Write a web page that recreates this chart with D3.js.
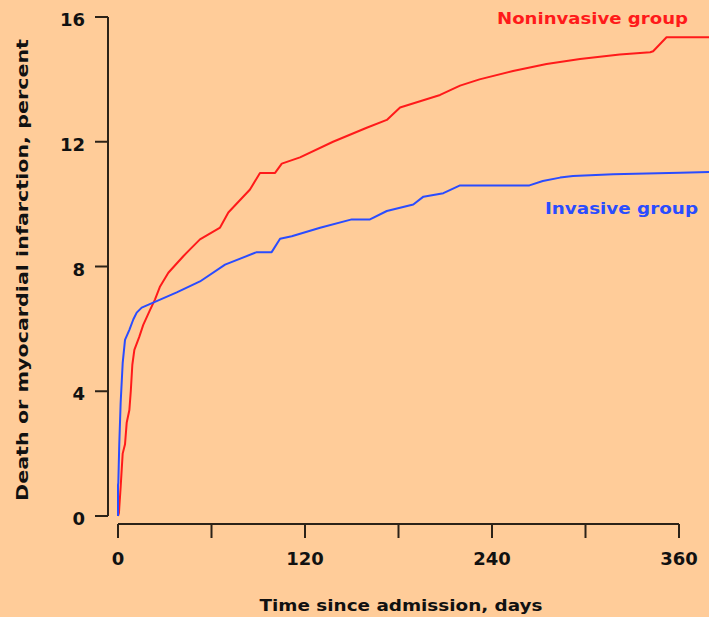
<!DOCTYPE html>
<html>
<head>
<meta charset="utf-8">
<script src="https://cdn.jsdelivr.net/npm/d3@7"></script>
<style>
  html, body { margin: 0; padding: 0; background: #ffcc99; }
  svg { display: block; }
  text { font-family: "DejaVu Sans", sans-serif; font-weight: bold; fill: #111; }
</style>
</head>
<body>
<svg id="chart" width="709" height="617"></svg>
<script>
// Cumulative rate of death or myocardial infarction (%) by day since admission
const noninvasiveDays = [0, 0.6, 1.7, 3, 4.5, 5.6, 7.3, 8.2, 9.2, 10.5, 13.7, 16.2, 20.5, 23.7, 27, 32.3, 41.9, 46.2,
  52.6, 65.5, 70.8, 84.7, 91.1, 100.8, 105.1, 116.8, 138, 159.6, 172.5, 181, 206.7, 219.5, 232, 253.5, 275, 296.5,
  322, 341.5, 343.4, 352, 380];
const noninvasiveRate = [0, 0.1, 0.93, 2.0, 2.3, 3.0, 3.4, 4.0, 4.85, 5.33, 5.75, 6.13, 6.6, 6.94, 7.36, 7.8, 8.33, 8.55,
  8.87, 9.25, 9.73, 10.47, 11.0, 11.0, 11.3, 11.5, 12.0, 12.45, 12.7, 13.1, 13.5, 13.8, 14.0, 14.27, 14.49, 14.65,
  14.8, 14.87, 14.9, 15.35, 15.35];

const invasiveDays = [0, 0, 0.2, 0.8, 1.7, 3.0, 4.5, 7.3, 9.8, 12, 15.2, 22.6, 37.7, 52.6, 68.7, 89, 98.6, 104, 111.5,
  129.7, 150, 161.7, 172.5, 189.5, 196, 208.8, 219.5, 245, 264, 272.6, 283.7, 292, 317.7, 360.7, 380];
const invasiveRate = [0, 1.0, 1.06, 2.28, 3.63, 4.9, 5.65, 5.97, 6.3, 6.52, 6.68, 6.84, 7.17, 7.52, 8.06, 8.46, 8.46, 8.89, 8.97,
  9.24, 9.51, 9.51, 9.78, 9.99, 10.24, 10.35, 10.6, 10.6, 10.6, 10.74, 10.85, 10.9, 10.96, 11.01, 11.03];

const xTicks = [0, 60, 120, 180, 240, 300, 360];
const xTickLabels = ["0", "", "120", "", "240", "", "360"];
const yTicks = [0, 4, 8, 12, 16];

const seriesNames = ["Noninvasive group", "Invasive group"];
const seriesColors = ["#ff1a1a", "#2a4cff"];

const svg = d3.select("#chart");
const axisColor = "#2b2218";

const x = d3.scaleLinear().domain([0, 360]).range([118, 679]);
const y = d3.scaleLinear().domain([0, 16]).range([516, 17]);

// y axis: vertical line with ticks pointing left
const yAxisG = svg.append("g").attr("transform", "translate(108,0)");
yAxisG.append("line").attr("x1", 0).attr("x2", 0).attr("y1", y(16)).attr("y2", y(0))
  .attr("stroke", axisColor).attr("stroke-width", 2);
yTicks.forEach(t => {
  yAxisG.append("line").attr("x1", -13).attr("x2", 0).attr("y1", y(t)).attr("y2", y(t))
    .attr("stroke", axisColor).attr("stroke-width", 2);
  yAxisG.append("text").attr("x", -23).attr("y", y(t) + 9)
    .attr("text-anchor", "end").attr("font-size", 18).text(t);
});

// x axis: horizontal line offset below the plot with ticks pointing down
const xAxisY = 524;
const xAxisG = svg.append("g");
xAxisG.append("line").attr("x1", x(0)).attr("x2", x(360)).attr("y1", xAxisY).attr("y2", xAxisY)
  .attr("stroke", axisColor).attr("stroke-width", 2);
xTicks.forEach((t, i) => {
  xAxisG.append("line").attr("x1", x(t)).attr("x2", x(t)).attr("y1", xAxisY).attr("y2", xAxisY + 14)
    .attr("stroke", axisColor).attr("stroke-width", 2);
  if (xTickLabels[i]) {
    xAxisG.append("text").attr("x", x(t)).attr("y", 565)
      .attr("text-anchor", "middle").attr("font-size", 18).text(xTickLabels[i]);
  }
});

// axis titles
svg.append("text").attr("x", 401).attr("y", 611).attr("text-anchor", "middle")
  .attr("font-size", 16).attr("textLength", 283).attr("lengthAdjust", "spacingAndGlyphs")
  .text("Time since admission, days");
svg.append("text").attr("transform", "translate(28,270) rotate(-90)").attr("text-anchor", "middle")
  .attr("font-size", 16).attr("textLength", 462).attr("lengthAdjust", "spacingAndGlyphs")
  .text("Death or myocardial infarction, percent");

// survival-style curves
const line = d3.line().x(d => x(d[0])).y(d => y(d[1]));
const series = [
  d3.zip(noninvasiveDays, noninvasiveRate),
  d3.zip(invasiveDays, invasiveRate)
];
series.forEach((s, i) => {
  svg.append("path").datum(s).attr("d", line).attr("fill", "none")
    .attr("stroke", seriesColors[i]).attr("stroke-width", 2).attr("stroke-linejoin", "round");
});

// curve labels
svg.append("text").attr("x", 497).attr("y", 24).attr("font-size", 16)
  .attr("textLength", 191).attr("lengthAdjust", "spacingAndGlyphs")
  .style("fill", seriesColors[0]).text(seriesNames[0]);
svg.append("text").attr("x", 545).attr("y", 214).attr("font-size", 16)
  .attr("textLength", 153).attr("lengthAdjust", "spacingAndGlyphs")
  .style("fill", seriesColors[1]).text(seriesNames[1]);
</script>
</body>
</html>
